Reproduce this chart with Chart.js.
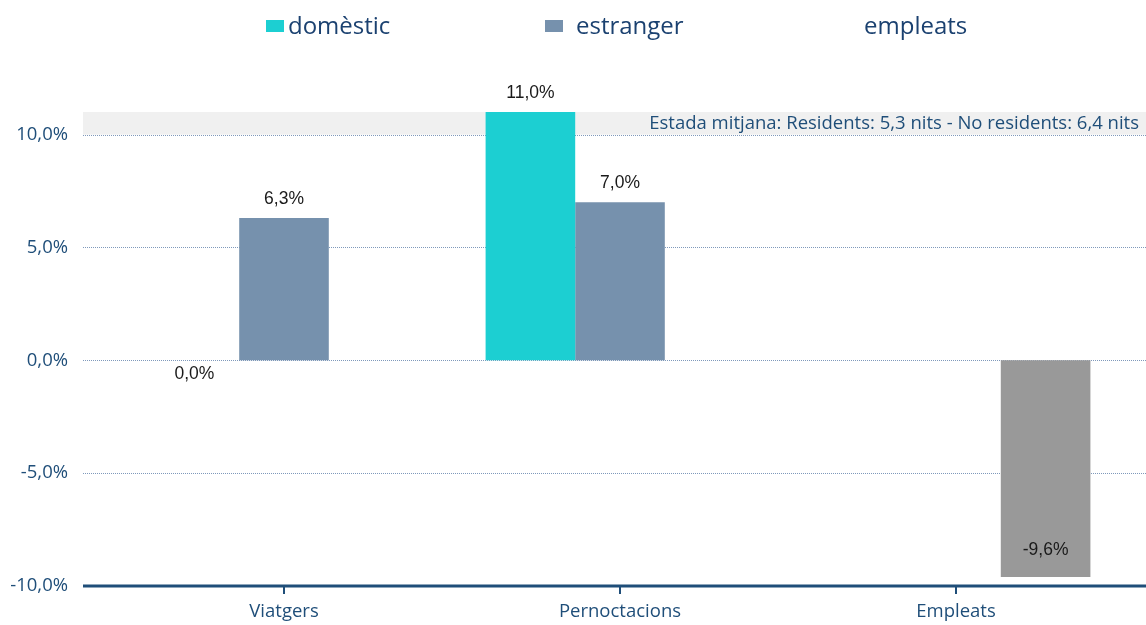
<!DOCTYPE html>
<html>
<head>
<meta charset="utf-8">
<script src="https://cdn.jsdelivr.net/npm/chart.js@4.4.1/dist/chart.umd.min.js"></script>
<style>
  html, body { margin: 0; padding: 0; background: #ffffff; }
  #wrap { position: relative; width: 1146px; height: 625px; }
  #c { position: absolute; left: 0; top: 0; }
  .leg { position: absolute; top: 9px; font-family: "Open Sans", sans-serif; font-size: 24px; color: #1b4170; line-height: 32px; white-space: nowrap; }
  .box { position: absolute; top: 20px; width: 18px; height: 12px; }
</style>
</head>
<body>
<div id="wrap">
  <canvas id="c" width="1146" height="625"></canvas>
  <div class="box" style="left:266px;background:#1ccfd2"></div>
  <div class="leg" style="left:288px">domèstic</div>
  <div class="box" style="left:545px;background:#7691ad"></div>
  <div class="leg" style="left:576px">estranger</div>
  <div class="leg" style="left:864px">empleats</div>
</div>
<script>
const categories = ["Viatgers", "Pernoctacions", "Empleats"];
const domestic  = [0.0, 11.0, null];
const foreign   = [6.3, 7.0, null];
const employees = [null, null, -9.6];
const yTicks = [-10, -5, 0, 5, 10];
const bandRange = [10, 11];
const bandNote = "Estada mitjana: Residents: 5,3 nits - No residents: 6,4 nits";

const DARK = "#1f4e79";
const fmt = v => v.toFixed(1).replace(".", ",") + "%";

const decor = {
  id: "decor",
  beforeDatasetsDraw(chart) {
    const { ctx } = chart;
    const y = chart.scales.y;
    const L = 83, R = 1146;
    ctx.save();
    const yTop = y.getPixelForValue(bandRange[1]);
    const yBot = y.getPixelForValue(bandRange[0]);
    ctx.fillStyle = "#f0f0f0";
    ctx.fillRect(L, yTop, R - L, yBot - yTop);
    ctx.strokeStyle = "#7f99bb";
    ctx.lineWidth = 1;
    ctx.setLineDash([1, 1]);
    yTicks.forEach(t => {
      if (t === yTicks[0]) return;
      const py = Math.round(y.getPixelForValue(t)) + 0.5;
      ctx.beginPath(); ctx.moveTo(L, py); ctx.lineTo(R, py); ctx.stroke();
    });
    ctx.setLineDash([]);
    ctx.restore();
  },
  afterDatasetsDraw(chart) {
    const { ctx } = chart;
    const y = chart.scales.y, x = chart.scales.x;
    const L = 83, R = 1146;
    ctx.save();
    ctx.font = "18.5px 'Open Sans'";
    ctx.fillStyle = DARK;
    ctx.textAlign = "right";
    ctx.textBaseline = "middle";
    ctx.fillText(bandNote, 1139, (y.getPixelForValue(bandRange[0]) + y.getPixelForValue(bandRange[1])) / 2);
    const py = y.getPixelForValue(yTicks[0]);
    ctx.strokeStyle = DARK;
    ctx.lineWidth = 3;
    ctx.beginPath(); ctx.moveTo(L, py); ctx.lineTo(R, py); ctx.stroke();
    ctx.lineWidth = 2;
    categories.forEach((c, i) => {
      const px = Math.round(x.getPixelForValue(i));
      ctx.beginPath(); ctx.moveTo(px, py); ctx.lineTo(px, py + 8); ctx.stroke();
    });
    ctx.font = "17.5px 'Liberation Sans', Arial";
    ctx.fillStyle = "#1a1a1a";
    ctx.textAlign = "center";
    ctx.textBaseline = "middle";
    chart.data.datasets.forEach((ds, di) => {
      const meta = chart.getDatasetMeta(di);
      ds.data.forEach((v, i) => {
        if (v === null) return;
        const bar = meta.data[i];
        let ly;
        if (v > 0) ly = bar.y - 19;
        else if (v === 0) ly = bar.y + 14;
        else ly = bar.y - 27;
        ctx.fillText(fmt(v), bar.x, ly);
      });
    });
    ctx.restore();
  }
};

new Chart(document.getElementById("c"), {
  type: "bar",
  data: {
    labels: categories,
    datasets: [
      { label: "domèstic", data: domestic, backgroundColor: "#1ccfd2" },
      { label: "estranger", data: foreign, backgroundColor: "#7691ad" },
      { label: "empleats", data: employees, backgroundColor: "#999999" }
    ]
  },
  options: {
    responsive: false,
    animation: false,
    events: [],
    layout: { padding: { top: 112, right: 22, bottom: 0, left: 0 } },
    datasets: { bar: { categoryPercentage: 0.8, barPercentage: 1.0 } },
    plugins: { legend: { display: false }, tooltip: { enabled: false } },
    scales: {
      x: {
        grid: { display: false, drawTicks: false },
        border: { display: false },
        ticks: { color: DARK, font: { family: "'Open Sans'", size: 18.5 }, padding: 15 },
        afterFit(s) { s.height = 39; s.paddingLeft = 0; s.paddingRight = 0; s.paddingTop = 0; s.paddingBottom = 0; }
      },
      y: {
        min: -10, max: 11,
        grid: { display: false, drawTicks: false },
        border: { display: false },
        afterBuildTicks(s) { s.ticks = yTicks.map(v => ({ value: v })); },
        ticks: { color: DARK, font: { family: "'Open Sans'", size: 18.5 }, padding: 48, callback: v => fmt(v) },
        afterFit(s) { s.width = 116; s.paddingTop = 0; s.paddingBottom = 0; }
      }
    }
  },
  plugins: [decor]
});
</script>
</body>
</html>
